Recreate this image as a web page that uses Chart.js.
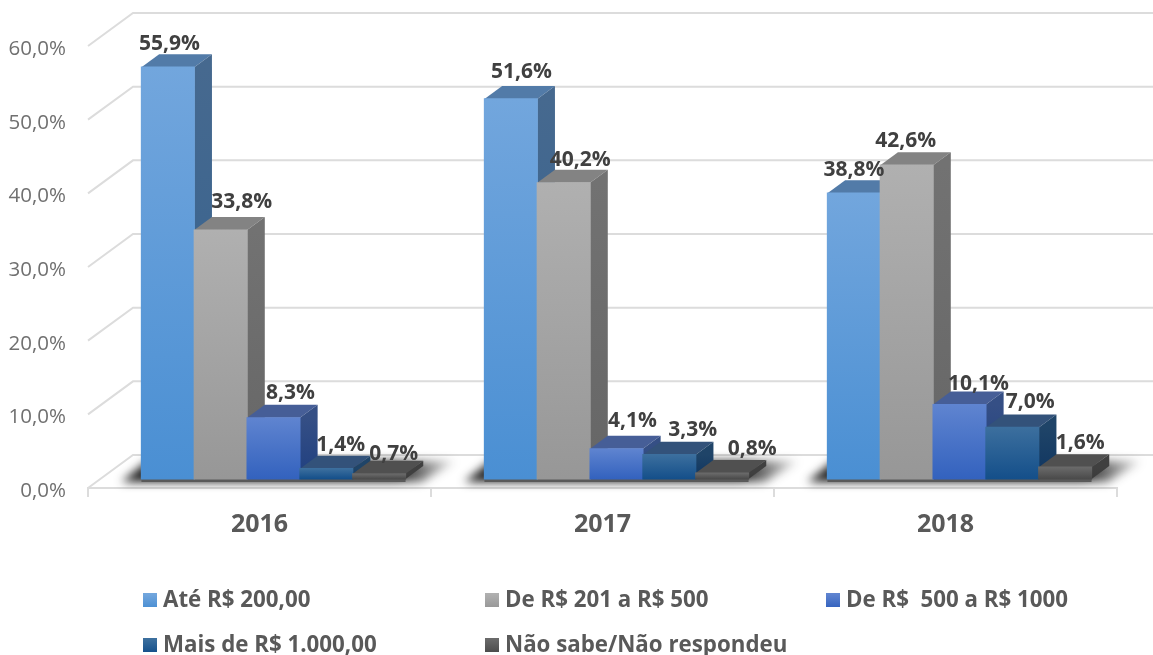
<!DOCTYPE html>
<html><head><meta charset="utf-8">
<style>html,body{margin:0;padding:0;background:#fff}canvas{display:block}</style>
<script src="https://cdn.jsdelivr.net/npm/chart.js@4"></script>
</head><body><canvas id="c" width="1153" height="655"></canvas>
<script>
const categories = ['2016','2017','2018'];
const seriesNames = ['Até R$ 200,00','De R$ 201 a R$ 500','De R$  500 a R$ 1000','Mais de R$ 1.000,00','Não sabe/Não respondeu'];
const ate200 = [55.9,51.6,38.8];
const de201 = [33.8,40.2,42.6];
const de500 = [8.3,4.1,10.1];
const mais1000 = [1.4,3.3,7.0];
const naoSabe = [0.7,0.8,1.6];
const yTicks = {min:0,max:60,step:10};

// styling
const FONT='"Open Sans"';
const faces=[
 {front:['#72A6DD','#4A8FD3'],top:'#527BA8',side:['#46698F','#33618F']},
 {front:['#B0B0B0','#979797'],top:'#838383',side:['#727272','#666666']},
 {front:['#5F84D0','#3362BE'],top:'#465E97',side:['#354F85','#1F3F80']},
 {front:['#3C6F9E','#144F8A'],top:'#33527A',side:['#1F4468','#0F3560']},
 {front:['#6A6A6A','#4A4A4A'],top:'#505050',side:['#404040','#3A3A3A']}
];
const PLANE={dx:14,dy:-9}, DEPTH={dx:17.7,dy:-13}, WALL={dx:45,dy:-33};
const labelShift=[
 [[1.5,-23],[10.5,-27],[0,-23]],
 [[21,-28],[16.5,-23],[-1,-24]],
 [[17,-25],[16,-28],[19,-21]],
 [[14.5,-24],[23.5,-25],[18,-25]],
 [[14.5,-20],[30,-24],[15,-24]]
];
const legendSlots=[[143,601],[485,601],[826,601],[143,646],[485,646]];
const pct=v=>v.toFixed(1).replace('.',',')+'%';

const values=[ate200,de201,de500,mais1000,naoSabe];

function frontGradient(ctx,i){
  const ch=ctx.chart, y=ch.scales&&ch.scales.y;
  if(!y||typeof ctx.raw!=='number') return faces[i].front[1];
  const p0=y.getPixelForValue(ctx.raw),p1=y.getPixelForValue(0);
  if(!Number.isFinite(p0)||!Number.isFinite(p1)) return faces[i].front[1];
  const g=ch.ctx.createLinearGradient(0,p0,0,p1);
  g.addColorStop(0,faces[i].front[0]);g.addColorStop(1,faces[i].front[1]);
  return g;
}

const scene3d={
  id:'scene3d',
  beforeDatasetsDraw(chart){
    const c=chart.ctx,a=chart.chartArea,y=chart.scales.y;
    c.save();
    // walls and floor grid
    c.strokeStyle='#DCDCDC';c.lineWidth=2;
    y.ticks.forEach(t=>{
      const p=y.getPixelForValue(t.value);
      c.beginPath();
      c.moveTo(a.left,p);c.lineTo(a.left+WALL.dx,p+WALL.dy);c.lineTo(chart.width,p+WALL.dy);
      c.stroke();
    });
    // floor shadows, one per category
    categories.forEach((_,k)=>{
      const m0=chart.getDatasetMeta(0).data[k],m4=chart.getDatasetMeta(4).data[k];
      const l=m0.x-m0.width/2+PLANE.dx, r=m4.x+m4.width/2+PLANE.dx, b=a.bottom+PLANE.dy;
      c.save();
      c.filter='blur(5px)';
      const g=c.createLinearGradient(l-20,0,r+50,0);
      g.addColorStop(0,'rgba(20,20,20,0.95)');g.addColorStop(0.82,'rgba(20,20,20,0.95)');g.addColorStop(1,'rgba(20,20,20,0.1)');
      c.fillStyle=g;
      c.beginPath();
      c.moveTo(l-20,b+3);c.lineTo(r+16,b+3);c.lineTo(r+50,b-18);c.lineTo(l+6,b-18);c.closePath();c.fill();
      c.restore();
      c.fillStyle='#5A5A5A';
      c.fillRect(l,b,r-l,3);
    });
    c.restore();
    // paint bars left to right
    c.save();
    c.translate(PLANE.dx,PLANE.dy);
    for(let d=0;d<values.length;d++){
      const meta=chart.getDatasetMeta(d);
      meta.data.forEach(el=>{
        const l=el.x-el.width/2,r=el.x+el.width/2,t=el.y,b=el.base;
        c.fillStyle=faces[d].top;
        c.beginPath();c.moveTo(l,t);c.lineTo(l+DEPTH.dx,t+DEPTH.dy);c.lineTo(r+DEPTH.dx,t+DEPTH.dy);c.lineTo(r,t);c.closePath();c.fill();
        const g=c.createLinearGradient(0,t,0,b);
        g.addColorStop(0,faces[d].side[0]);g.addColorStop(1,faces[d].side[1]);
        c.fillStyle=g;
        c.beginPath();c.moveTo(r,t);c.lineTo(r+DEPTH.dx,t+DEPTH.dy);c.lineTo(r+DEPTH.dx,b+DEPTH.dy);c.lineTo(r,b);c.closePath();c.fill();
      });
      meta.controller.draw();
    }
    // value labels
    c.font='bold 21px '+FONT;c.fillStyle='#404040';c.textAlign='center';c.textBaseline='middle';
    for(let d=0;d<values.length;d++){
      chart.getDatasetMeta(d).data.forEach((el,k)=>{
        const s=labelShift[d][k];
        c.fillText(pct(values[d][k]),el.x+s[0],el.y+s[1]);
      });
    }
    c.restore();
    return false;
  },
  afterDraw(chart){
    const c=chart.ctx;
    c.save();
    chart.data.datasets.forEach((ds,d)=>{
      const [lx,ly]=legendSlots[d];
      const g=c.createLinearGradient(0,ly-7,0,ly+7);
      g.addColorStop(0,faces[d].front[0]);g.addColorStop(1,faces[d].front[1]);
      c.fillStyle=g;c.fillRect(lx,ly-8,14,14);
      c.font='bold 22.3px '+FONT;c.fillStyle='#595959';c.textAlign='left';c.textBaseline='middle';
      c.fillText(ds.label,lx+20,ly);
    });
    c.restore();
  }
};

new Chart(document.getElementById('c'),{
  type:'bar',
  data:{
    labels:categories,
    datasets:values.map((v,i)=>({
      label:seriesNames[i],data:v,borderWidth:0,inflateAmount:0.6,
      backgroundColor:ctx=>frontGradient(ctx,i),
      categoryPercentage:0.77,barPercentage:1
    }))
  },
  options:{
    responsive:false,animation:false,devicePixelRatio:1,
    layout:{padding:{left:0,right:36,top:46,bottom:107}},
    plugins:{legend:{display:false},tooltip:{enabled:false}},
    scales:{
      x:{
        afterFit(s){s.height=60;},
        grid:{drawOnChartArea:false,drawTicks:true,tickLength:9,color:'#DCDCDC',lineWidth:2},
        border:{display:true,color:'#DCDCDC',width:2},
        ticks:{color:'#595959',padding:13,font:{family:'Open Sans',size:25,weight:'bold'},maxRotation:0}
      },
      y:{
        min:yTicks.min,max:yTicks.max,
        afterFit(s){s.width=88;},
        grid:{display:false},border:{display:false},
        ticks:{stepSize:yTicks.step,color:'#707070',padding:14,labelOffset:3,font:{family:'Open Sans',size:20.5},callback:v=>pct(v)}
      }
    }
  },
  plugins:[scene3d]
});
</script></body></html>
